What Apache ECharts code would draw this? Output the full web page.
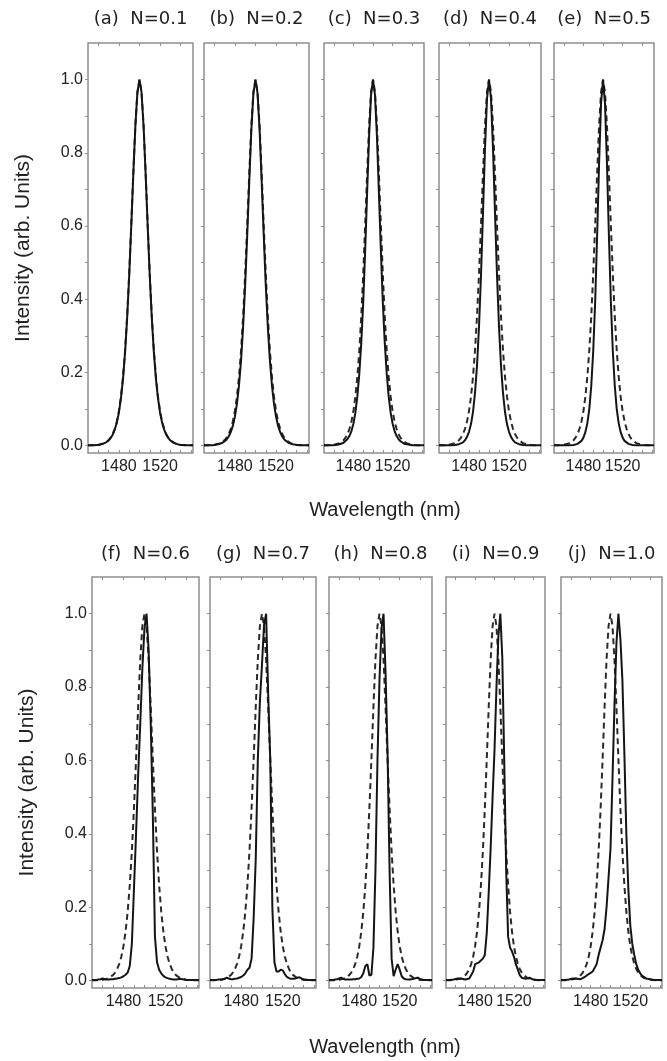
<!DOCTYPE html>
<html>
<head>
<meta charset="utf-8">
<script src="https://cdn.jsdelivr.net/npm/echarts@6/dist/echarts.min.js"></script>
<style>
  html, body { margin: 0; padding: 0; background: #fff; }
  #chart { width: 667px; height: 1061px; }
</style>
</head>
<body>
<div id="chart"></div>
<script>
// wavelength grid (nm)
var wavelength = [
  1450, 1452, 1454, 1456, 1458, 1460, 1462, 1464, 1466, 1468, 1470, 1472, 1474,
  1476, 1478, 1480, 1482, 1484, 1486, 1488, 1490, 1492, 1494, 1496, 1498, 1500,
  1502, 1504, 1506, 1508, 1510, 1512, 1514, 1516, 1518, 1520, 1522, 1524, 1526,
  1528, 1530, 1532, 1534, 1536, 1538, 1540, 1542, 1544, 1546, 1548, 1550, 1552
];

var panelTitles = [
  '(a)  N=0.1', '(b)  N=0.2', '(c)  N=0.3', '(d)  N=0.4', '(e)  N=0.5',
  '(f)  N=0.6', '(g)  N=0.7', '(h)  N=0.8', '(i)  N=0.9', '(j)  N=1.0'
];

// dashed curve (same reference spectrum in every panel)
var reference = [
  .001, .001, .001, .002, .002, .002, .004, .005, .007, .011, .015, .022, .032,
  .046, .066, .094, .134, .188, .26, .353, .469, .603, .745, .875, .966, 1,
  .966, .875, .745, .603, .469, .353, .26, .188, .134, .094, .066, .046, .032,
  .022, .015, .011, .007, .005, .004, .002, .002, .002, .001, .001, .001, .001
];

// solid curves
var solidA = [
  .001, .001, .001, .001, .002, .002, .003, .005, .007, .010, .014, .021, .030,
  .044, .063, .090, .129, .182, .254, .347, .463, .598, .741, .872, .965, 1,
  .965, .872, .741, .598, .463, .347, .254, .182, .129, .090, .063, .044, .030,
  .021, .014, .010, .007, .005, .003, .002, .002, .001, .001, .001, .001, .001
];
var solidB = [
  .001, .001, .001, .001, .001, .002, .003, .004, .006, .008, .012, .017, .025,
  .037, .054, .079, .114, .165, .233, .324, .439, .576, .724, .863, .963, 1,
  .963, .863, .724, .576, .439, .324, .233, .165, .114, .079, .054, .037, .025,
  .017, .012, .008, .006, .004, .003, .002, .001, .001, .001, .001, .001, .001
];
var solidC = [
  .001, .001, .001, .001, .001, .001, .002, .003, .004, .005, .008, .012, .018,
  .027, .04, .06, .09, .134, .196, .28, .391, .534, .692, .845, .958, 1,
  .958, .845, .692, .534, .391, .28, .196, .134, .09, .06, .04, .027, .018,
  .012, .008, .005, .004, .003, .002, .001, .001, .001, .001, .001, .001, .001
];
var solidD = [
  .001, .001, .001, .001, .001, .001, .001, .001, .002, .003, .004, .006, .009,
  .015, .024, .038, .059, .092, .144, .218, .325, .466, .636, .812, .948, 1,
  .948, .812, .636, .466, .325, .218, .144, .092, .059, .038, .024, .015, .009,
  .006, .004, .003, .002, .001, .001, .001, .001, .001, .001, .001, .001, .001
];
var solidE = [
  .001, .001, .001, .001, .001, .001, .001, .001, .001, .001, .002, .003, .005,
  .008, .013, .022, .037, .061, .1, .163, .258, .393, .575, .772, .935, 1,
  .935, .772, .575, .393, .258, .163, .1, .061, .037, .022, .013, .008, .005,
  .003, .002, .001, .001, .001, .001, .001, .001, .001, .001, .001, .001, .001
];
var solidF = [
  .002, .002, .002, .003, .004, .006, .004, .003, .003, .004, .004, .005, .006,
  .007, .009, .012, .016, .022, .04, .1, .25, .4, .56, .7, .85, .96,
  1, .9, .7, .45, .12, .05, .03, .02, .013, .009, .007, .005, .004,
  .003, .003, .004, .005, .004, .003, .002, .002, .002, .002, .002, .002, .002
];
var solidG = [
  .002, .002, .002, .002, .003, .003, .003, .005, .008, .006, .004, .004, .005,
  .006, .008, .01, .014, .02, .03, .035, .06, .17, .33, .6, .76, .86,
  .97, 1, .78, .6, .2, .05, .025, .025, .03, .028, .018, .01, .007,
  .005, .005, .006, .008, .009, .006, .004, .003, .002, .002, .002, .002, .002
];
var solidH = [
  .002, .002, .002, .003, .004, .006, .008, .005, .003, .003, .003, .003, .004,
  .004, .005, .006, .01, .02, .04, .045, .014, .016, .09, .3, .6, .82,
  .96, 1, .84, .62, .3, .06, .012, .03, .045, .03, .012, .006, .004,
  .003, .003, .004, .005, .007, .008, .005, .003, .002, .002, .002, .002, .002
];
var solidI = [
  .002, .002, .002, .002, .003, .004, .006, .008, .005, .003, .003, .004, .006,
  .01, .025, .045, .05, .05, .055, .06, .07, .13, .24, .36, .5, .63,
  .8, .94, 1, .88, .6, .3, .12, .09, .08, .065, .045, .03, .015,
  .008, .005, .005, .006, .008, .005, .003, .002, .002, .002, .002, .002, .002
];
var solidJ = [
  .002, .002, .002, .002, .003, .004, .006, .007, .005, .004, .004, .006, .01,
  .014, .018, .022, .025, .03, .045, .07, .09, .11, .14, .2, .28, .36,
  .55, .75, .92, 1, .93, .82, .62, .4, .25, .15, .1, .07, .045,
  .03, .02, .013, .008, .006, .005, .004, .003, .002, .002, .002, .002, .002
];

var solidCurves = [solidA, solidB, solidC, solidD, solidE, solidF, solidG, solidH, solidI, solidJ];

// axis ticks / labels
var wlLabels = [1480, 1520];
var wlTicks = [1460, 1470, 1480, 1490, 1500, 1510, 1520, 1530, 1540, 1550];
var wlTopTicks = [1460, 1480, 1500, 1520, 1540];
var intensityLabels = [0, 0.2, 0.4, 0.6, 0.8, 1.0];
var intensityTicks = [0, 0.1, 0.2, 0.3, 0.4, 0.5, 0.6, 0.7, 0.8, 0.9, 1.0];

// panel boxes: left, top, width, height (px)
var layout = [
  [88, 43, 105, 410], [204, 43, 105, 410], [324, 43, 100, 410], [439, 43, 102, 410], [554, 43, 100, 410],
  [92, 577, 107, 411], [210, 577, 106, 411], [329, 577, 103, 411], [446, 577, 99, 411], [561, 577, 101, 411]
];

var boxColor = '#8f8f8f';
var textColor = '#222';

function pairs(ys) {
  return wavelength.map(function (w, k) { return [w, ys[k]]; });
}

var grid = [], xAxis = [], yAxis = [], series = [], graphic = [];

layout.forEach(function (b, i) {
  var first = (i % 5 === 0);
  grid.push({
    left: b[0], top: b[1], width: b[2], height: b[3],
    show: true, borderColor: boxColor, borderWidth: 1.5
  });
  // bottom axis (labels)
  xAxis.push({
    gridIndex: i, type: 'value', min: 1450, max: 1552, position: 'bottom',
    axisLine: { show: false, onZero: false },
    axisTick: { show: true, inside: true, length: 3, customValues: wlTicks, lineStyle: { color: boxColor } },
    axisLabel: {
      customValues: wlLabels, margin: 6, hideOverlap: false,
      showMinLabel: true, showMaxLabel: true,
      color: textColor, fontSize: 16, fontFamily: 'Liberation Sans',
      formatter: function (v) { return String(v); }
    },
    splitLine: { show: false }
  });
  // top axis (ticks only)
  xAxis.push({
    gridIndex: i, type: 'value', min: 1450, max: 1552, position: 'top',
    axisLine: { show: false, onZero: false },
    axisTick: { show: true, inside: true, length: 3, customValues: wlTopTicks, lineStyle: { color: boxColor } },
    axisLabel: { show: false },
    splitLine: { show: false }
  });
  yAxis.push({
    gridIndex: i, type: 'value', min: -0.02, max: 1.1,
    axisLine: { show: false, onZero: false },
    axisTick: { show: true, length: 3, customValues: intensityTicks, lineStyle: { color: boxColor } },
    axisLabel: {
      show: first, customValues: intensityLabels, margin: 5,
      color: textColor, fontSize: 16, fontFamily: 'Liberation Sans',
      formatter: function (v) { return v.toFixed(1); }
    },
    splitLine: { show: false },
    name: first ? 'Intensity (arb. Units)' : '',
    nameLocation: 'middle', nameGap: 54,
    nameTextStyle: { color: textColor, fontSize: 21, fontFamily: 'Liberation Sans' }
  });

  series.push({
    type: 'line', xAxisIndex: 2 * i, yAxisIndex: i,
    data: pairs(reference), symbol: 'none', z: 2,
    lineStyle: { color: '#2a2a2a', width: 2, type: [6, 4] }
  });
  series.push({
    type: 'line', xAxisIndex: 2 * i, yAxisIndex: i,
    data: pairs(solidCurves[i]), symbol: 'none', z: 3,
    lineStyle: { color: '#151515', width: 2 }
  });

  graphic.push({
    type: 'text', x: b[0] + b[2] / 2, y: i < 5 ? 19 : 554,
    style: {
      text: panelTitles[i], fill: textColor, fontSize: 18, fontFamily: 'DejaVu Sans',
      align: 'center', verticalAlign: 'middle'
    }
  });
});

[510, 1047].forEach(function (y) {
  graphic.push({
    type: 'text', x: 385, y: y,
    style: {
      text: 'Wavelength (nm)', fill: textColor, fontSize: 20, fontFamily: 'Liberation Sans',
      align: 'center', verticalAlign: 'middle'
    }
  });
});

var chart = echarts.init(document.getElementById('chart'));
chart.setOption({
  animation: false,
  backgroundColor: '#fff',
  grid: grid,
  xAxis: xAxis,
  yAxis: yAxis,
  series: series,
  graphic: graphic
});
</script>
</body>
</html>
